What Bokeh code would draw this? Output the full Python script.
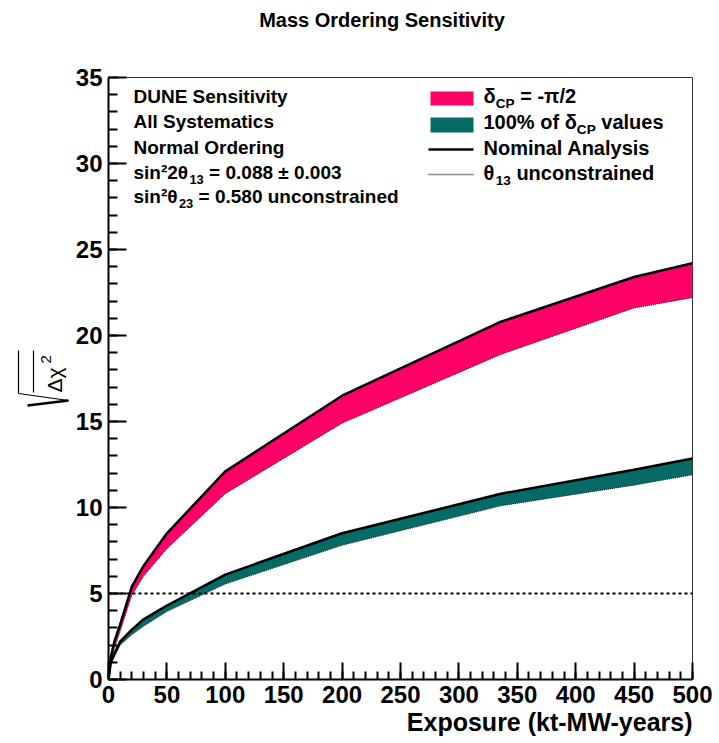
import math

from bokeh.plotting import figure
from bokeh.layouts import row, column
from bokeh.models import Range1d, SingleIntervalTicker, Label, BoxAnnotation, Title
from bokeh.core.properties import value
from bokeh.embed import file_html
from bokeh.resources import INLINE

# Exposure grid (kt-MW-years) and sqrt(delta chi^2) for the mass ordering
exposure = [0, 2, 5, 10, 20, 30, 50, 100, 200, 336, 450, 500]
dcp_nominal = [0, 1.3, 2.2, 3.2, 5.4, 6.6, 8.5, 12.1, 16.5, 20.8, 23.4, 24.2]
dcp_th13_free = [0, 1.1, 1.8, 2.8, 4.9, 6.0, 7.6, 10.8, 14.9, 18.9, 21.6, 22.2]
all_nominal = [0, 1.0, 1.5, 2.2, 2.9, 3.5, 4.3, 6.1, 8.5, 10.8, 12.2, 12.85]
all_th13_free = [0, 0.9, 1.3, 2.0, 2.6, 3.1, 3.95, 5.55, 7.8, 10.1, 11.3, 11.9]
threshold = [5, 5]
threshold_x = [0, 500]

PINK = "#ff0066"
TEAL = "#066a66"
FONT = "Liberation Sans"
DROP = 0.38                    # anchor-to-baseline distance, in font sizes

W, H = 719, 743
SIDE = 72                      # strip holding the rotated y-axis title
HEAD = 40                      # strip holding the page title
L, R, T, B = 108, 27, 77, 64   # frame borders on the full page
X_MAX, Y_MAX = 500, 35


def strip(width, height):
    f = figure(width=width, height=height, output_backend="svg", toolbar_location=None,
               x_range=Range1d(0, width), y_range=Range1d(0, height),
               x_axis_type=None, y_axis_type=None, min_border=0, title=None)
    f.outline_line_color = None
    f.xgrid.visible = False
    f.ygrid.visible = False
    return f


# ---- y-axis title strip: sqrt(delta chi^2) drawn in page pixels ----
side = strip(SIDE, H)


def up(py):
    return H - py


side.text(x=[62 - DROP * 21], y=[up(392)], text=["Δχ"], angle=math.pi / 2,
          text_font=value(FONT), text_font_size="21px", text_baseline="alphabetic",
          text_align="left", text_color="black")
side.text(x=[51 - DROP * 15], y=[up(363)], text=["2"], angle=math.pi / 2,
          text_font=value(FONT), text_font_size="15px", text_baseline="alphabetic",
          text_align="left", text_color="black")
side.segment(x0=[18, 33], y0=[up(350), up(350)], x1=[18, 33], y1=[up(393), up(392)],
             line_color="black", line_width=1.2)
side.segment(x0=[18], y0=[up(393)], x1=[68], y1=[up(400)], line_color="black", line_width=1.2)
side.segment(x0=[68], y0=[up(400)], x1=[27], y1=[up(405)], line_color="black", line_width=2.6)

# ---- title strip ----
head = strip(W - SIDE, HEAD)
head.text(x=[375 - SIDE], y=[HEAD - 27 + DROP * 20], text=["Mass Ordering Sensitivity"],
          text_font=value(FONT), text_font_size="20px", text_font_style="bold",
          text_baseline="alphabetic", text_align="center", text_color="black")

# ---- main plot ----
p = figure(width=W - SIDE, height=H - HEAD, output_backend="svg", toolbar_location=None,
           x_range=Range1d(0, X_MAX), y_range=Range1d(0, Y_MAX), title=None,
           min_border_left=L - SIDE, min_border_right=R,
           min_border_top=T - HEAD, min_border_bottom=B)
p.xgrid.visible = False
p.ygrid.visible = False
p.outline_line_color = "#333333"
p.outline_line_width = 1
p.background_fill_color = "white"
p.border_fill_color = "white"

p.add_layout(Title(text="Exposure (kt-MW-years)", align="right", standoff=0,
                   text_font=FONT, text_font_size="25px", text_font_style="bold",
                   text_color="black"), "below")

for ax, step, tin, min_in in ((p.xaxis[0], 50, 17, 8), (p.yaxis[0], 5, 18, 9)):
    ax.ticker = SingleIntervalTicker(interval=step, num_minor_ticks=5)
    ax.axis_line_width = 2
    ax.axis_line_color = "black"
    ax.major_tick_in = tin
    ax.major_tick_out = 0
    ax.minor_tick_in = min_in
    ax.minor_tick_out = 0
    ax.major_tick_line_width = 2
    ax.minor_tick_line_width = 2
    ax.major_tick_line_color = "black"
    ax.minor_tick_line_color = "black"
    ax.major_label_text_font = FONT
    ax.major_label_text_font_style = "bold"
    ax.major_label_text_font_size = "24px"
    ax.major_label_text_color = "black"
p.xaxis.major_label_standoff = 6
p.yaxis.major_label_standoff = 6

# Bands: nominal analysis (solid) down to theta13 unconstrained (dotted)
p.varea(x=exposure, y1=dcp_th13_free, y2=dcp_nominal, fill_color=PINK)
p.varea(x=exposure, y1=all_th13_free, y2=all_nominal, fill_color=TEAL)
for lo in (dcp_th13_free, all_th13_free):
    p.line(exposure, lo, line_color="#222222", line_width=1, line_dash="1 1")
for hi in (dcp_nominal, all_nominal):
    p.line(exposure, hi, line_color="black", line_width=2.5)
p.line(threshold_x, threshold, line_color="black", line_width=2, line_dash="3 3")


def dx(px):
    return (px - L) / (W - L - R) * X_MAX


def dy(py):
    return (H - B - py) / (H - T - B) * Y_MAX


ADV = {' ': 278, '%': 889, '(': 333, ')': 333, '-': 333, '.': 278, '/': 278,
       '=': 584, '±': 549, '²': 333, 'θ': 611, 'δ': 611, 'π': 600,
       'A': 722, 'C': 722, 'D': 722, 'E': 667, 'N': 722, 'O': 778, 'P': 667,
       'S': 667, 'U': 722, 'a': 556, 'c': 556, 'd': 611, 'e': 556, 'f': 333,
       'g': 611, 'i': 278, 'l': 278, 'm': 889, 'n': 611, 'o': 611, 'r': 389,
       's': 556, 't': 333, 'u': 611, 'v': 556, 'y': 556}


def text_width(s, size):
    return sum(ADV.get(c, 556) for c in s) / 1000 * size


def put(text, px, py, size, style="bold", align="left"):
    # py is the wanted baseline in page pixels
    p.add_layout(Label(x=dx(px), y=dy(py - DROP * size), text=text, text_font=FONT,
                       text_font_size=f"{size:.1f}px", text_font_style=style,
                       text_align=align, text_baseline="alphabetic",
                       text_color="black"))


def chain(pieces, px, py, size):
    x = px
    for text, sub in pieces:
        s = size * 0.68 if sub else size
        body = text.lstrip(" ")
        x += text_width(text[:len(text) - len(body)], s)
        put(body, x, py + (size * 0.28 if sub else 0), s)
        x += text_width(body, s)


# Analysis description
BLOCK = 19
put("DUNE Sensitivity", 133, 103, BLOCK)
put("All Systematics", 133, 128, BLOCK)
put("Normal Ordering", 133, 154, BLOCK)
chain([("sin²2θ", False), ("13", True), (" = 0.088 ± 0.003", False)], 133, 179, BLOCK)
chain([("sin²θ", False), ("23", True), (" = 0.580 unconstrained", False)], 133, 203, BLOCK)

# Legend
LEG = 20
p.add_layout(BoxAnnotation(left=dx(430), right=dx(473), top=dy(91), bottom=dy(105),
                           fill_color=PINK, fill_alpha=1, line_alpha=0))
p.add_layout(BoxAnnotation(left=dx(430), right=dx(473), top=dy(117), bottom=dy(132),
                           fill_color=TEAL, fill_alpha=1, line_alpha=0))
p.line([dx(428), dx(473)], [dy(149), dy(149)], line_color="black", line_width=2.5)
p.line([dx(428), dx(473)], [dy(174), dy(174)], line_color="#222222", line_width=1.5,
       line_dash="1 1")
chain([("δ", False), ("CP", True), (" = -π/2", False)], 483, 103, LEG)
chain([("100% of δ", False), ("CP", True), (" values", False)], 483, 129, LEG)
put("Nominal Analysis", 483, 155, LEG)
chain([("θ", False), ("13", True), (" unconstrained", False)], 483, 180, LEG)

layout = row(side, column(head, p, spacing=0), spacing=0)
open("out.html", "w").write(file_html(layout, INLINE))
